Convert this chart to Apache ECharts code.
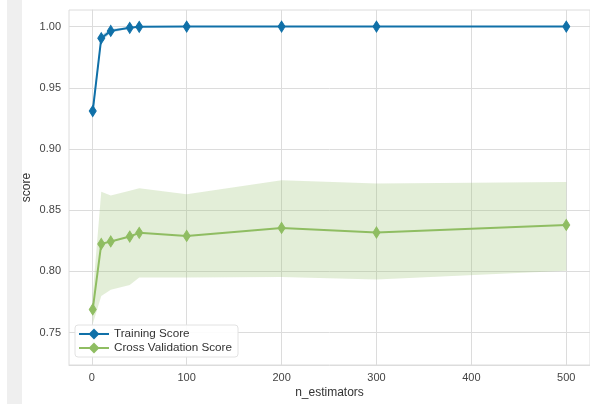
<!DOCTYPE html>
<html>
<head>
<meta charset="utf-8">
<script src="https://cdn.jsdelivr.net/npm/echarts@6/dist/echarts.min.js"></script>
<style>
html,body{margin:0;padding:0;background:#fff;}
#chart{width:590px;height:404px;}
</style>
</head>
<body>
<div id="chart"></div>
<script>
// ---- data ----
const nEstimators = [1, 10, 20, 40, 50, 100, 200, 300, 500];
const trainMean  = [0.931, 0.9905, 0.9965, 0.999, 0.9998, 1.0, 1.0, 1.0, 1.0];
const trainUpper = [0.936, 0.9930, 0.9980, 0.9996, 1.0, 1.0, 1.0, 1.0, 1.0];
const trainLower = [0.926, 0.9880, 0.9950, 0.9984, 0.9996, 1.0, 1.0, 1.0, 1.0];
const cvMean  = [0.769, 0.8225, 0.8245, 0.8285, 0.8315, 0.829, 0.8355, 0.8318, 0.838];
const cvUpper = [0.781, 0.865, 0.862, 0.866, 0.868, 0.863, 0.8745, 0.8718, 0.873];
const cvLower = [0.757, 0.780, 0.785, 0.789, 0.795, 0.795, 0.7955, 0.7935, 0.8005];
const xTicks = [0, 100, 200, 300, 400, 500];
const yTicks = [0.75, 0.80, 0.85, 0.90, 0.95, 1.00];

const FONT = '"Liberation Sans", Arial, sans-serif';
const BLUE = '#1070a8';
const GREEN = '#8fbd62';
const GRID = '#dcdcdc';

function bandSeries(name, upper, lower, fill) {
  return {
    name: name, type: 'custom', silent: true, z: 3,
    data: nEstimators.map((x, i) => [x, upper[i]]),
    renderItem: function (params, api) {
      if (params.dataIndex !== 0) return null;
      const pts = [];
      for (let i = 0; i < nEstimators.length; i++) pts.push(api.coord([nEstimators[i], upper[i]]));
      for (let i = nEstimators.length - 1; i >= 0; i--) pts.push(api.coord([nEstimators[i], lower[i]]));
      return { type: 'polygon', shape: { points: pts }, style: { fill: fill } };
    }
  };
}

const chart = echarts.init(document.getElementById('chart'), null, { renderer: 'canvas' });
chart.setOption({
  animation: false,
  backgroundColor: '#fff',
  textStyle: { fontFamily: FONT },
  graphic: [
    { type: 'rect', left: 7, top: 0, shape: { width: 15, height: 404 }, style: { fill: '#efefef' }, z: -10 }
  ],
  grid: { left: 69, top: 10, width: 523, height: 357.5, show: true, borderColor: GRID, borderWidth: 1, backgroundColor: '#fff' },
  xAxis: {
    type: 'value', min: -24, max: 525,
    splitLine: { show: false },
    axisTick: { show: false },
    axisLine: { show: true, lineStyle: { color: GRID } },
    axisLabel: { customValues: xTicks, color: '#444', fontSize: 11, margin: 7, fontFamily: FONT },
    name: 'n_estimators', nameLocation: 'middle', nameGap: 22, nameMoveOverlap: false,
    nameTextStyle: { color: '#333', fontSize: 12, fontFamily: FONT }
  },
  yAxis: {
    type: 'value', min: 0.72356, max: 1.01356,
    splitLine: { show: false },
    axisTick: { show: false },
    axisLine: { show: true, lineStyle: { color: GRID } },
    axisLabel: { customValues: yTicks, color: '#444', fontSize: 11, margin: 8, fontFamily: FONT,
      formatter: v => v.toFixed(2) },
    name: 'score', nameLocation: 'middle', nameGap: 36, nameMoveOverlap: false,
    nameTextStyle: { color: '#333', fontSize: 12, fontFamily: FONT }
  },
  legend: {
    z: 50,
    data: ['Training Score', 'Cross Validation Score'],
    orient: 'vertical', left: 75, top: 325,
    itemWidth: 30, itemHeight: 10, itemGap: 2,
    padding: [3, 6, 3, 3],
    borderColor: '#e2e2e2', borderWidth: 1, borderRadius: 3,
    backgroundColor: 'rgba(255,255,255,0.9)',
    textStyle: { color: '#333', fontSize: 11.7, fontFamily: FONT }
  },
  series: [
    {
      name: 'grid', type: 'line', data: [], z: 1, silent: true,
      markLine: {
        z: 1, silent: true, symbol: 'none', label: { show: false },
        lineStyle: { color: GRID, width: 1, type: 'solid' },
        data: xTicks.map(v => ({ xAxis: v })).concat(yTicks.map(v => ({ yAxis: v })))
      }
    },
    bandSeries('trainBand', trainUpper, trainLower, 'rgba(16,112,168,0.25)'),
    bandSeries('cvBand', cvUpper, cvLower, 'rgba(143,189,98,0.25)'),
    {
      name: 'Training Score', type: 'line', z: 7,
      data: nEstimators.map((x, i) => [x, trainMean[i]]),
      symbol: 'diamond', symbolSize: [7, 11], showSymbol: true,
      lineStyle: { color: BLUE, width: 2 },
      itemStyle: { color: BLUE, borderColor: BLUE, borderWidth: 1 }
    },
    {
      name: 'Cross Validation Score', type: 'line', z: 6,
      data: nEstimators.map((x, i) => [x, cvMean[i]]),
      symbol: 'diamond', symbolSize: [7, 11], showSymbol: true,
      lineStyle: { color: GREEN, width: 2 },
      itemStyle: { color: GREEN, borderColor: GREEN, borderWidth: 1 }
    }
  ]
});
</script>
</body>
</html>
